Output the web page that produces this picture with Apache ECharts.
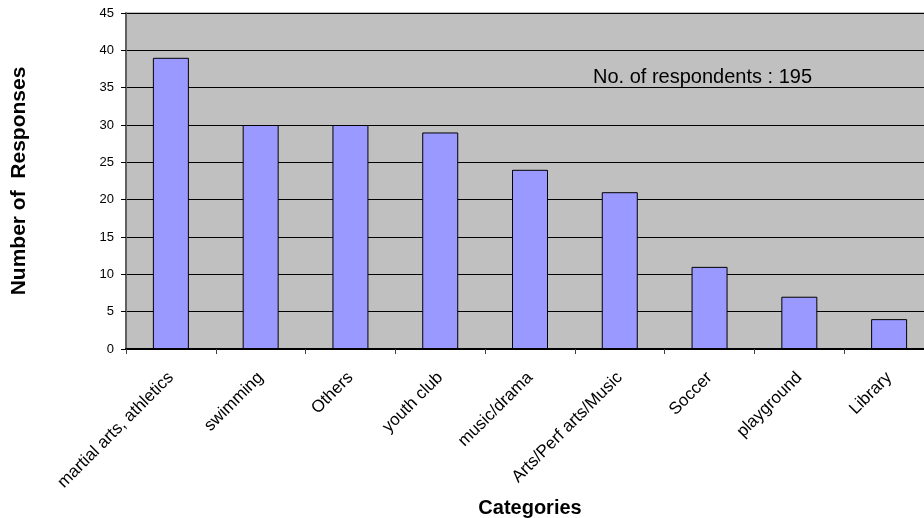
<!DOCTYPE html>
<html><head><meta charset="utf-8">
<script src="https://cdn.jsdelivr.net/npm/echarts@6/dist/echarts.min.js"></script>
<style>html,body{margin:0;padding:0;background:#fff;overflow:hidden}#c{width:934px;height:518px}</style>
</head><body><div id="c"></div>
<script>
const categories = ["martial arts, athletics","swimming","Others","youth club","music/drama","Arts/Perf arts/Music","Soccer","playground","Library"];
const responses = [39,30,30,29,24,21,11,7,4];
const yTicks = [0,5,10,15,20,25,30,35,40,45];
const note = "No. of respondents : 195";

const chart = echarts.init(document.getElementById('c'), null, {renderer:'canvas'});
const F = 'Arial, "Liberation Sans", sans-serif';
chart.setOption({
  animation:false,
  backgroundColor:'#fff',
  grid:{left:126, right:0, top:13, bottom:169, outerBoundsMode:'none', containLabel:false,
    show:true, backgroundColor:'#c0c0c0', borderColor:'#808080', borderWidth:1},
  xAxis:{type:'category', data:categories,
    name:'Categories', nameLocation:'middle', nameGap:147,
    nameTextStyle:{fontFamily:F, fontSize:20, fontWeight:'bold', color:'#000'},
    axisLine:{lineStyle:{color:'#000', width:2}},
    axisTick:{show:true, alignWithLabel:false, length:5, lineStyle:{color:'#404040'}},
    axisLabel:{rotate:45, interval:0, margin:26, fontFamily:F, fontSize:17, color:'#000'}
  },
  yAxis:{type:'value', min:0, max:45, interval:5,
    name:'Number of  Responses', nameLocation:'middle', nameGap:96, nameRotate:90,
    nameTextStyle:{fontFamily:F, fontSize:21, fontWeight:'bold', color:'#000'},
    axisLine:{show:true, lineStyle:{color:'#606060', width:2}},
    axisTick:{show:true, length:5, lineStyle:{color:'#000'}},
    axisLabel:{fontFamily:F, fontSize:13, color:'#000', margin:12,
      formatter:v=> yTicks.includes(v) ? String(v) : ''},
    splitLine:{show:true, lineStyle:{color:'#000', width:1}}
  },
  series:[{type:'bar', data:responses, barWidth:36,
    itemStyle:{color:'#9999ff', borderColor:'#000', borderWidth:1}
  }],
  graphic:[{type:'text', left:593, top:67,
    style:{text:note, fontFamily:F, fontSize:20, fill:'#000'}}]
});
</script></body></html>
